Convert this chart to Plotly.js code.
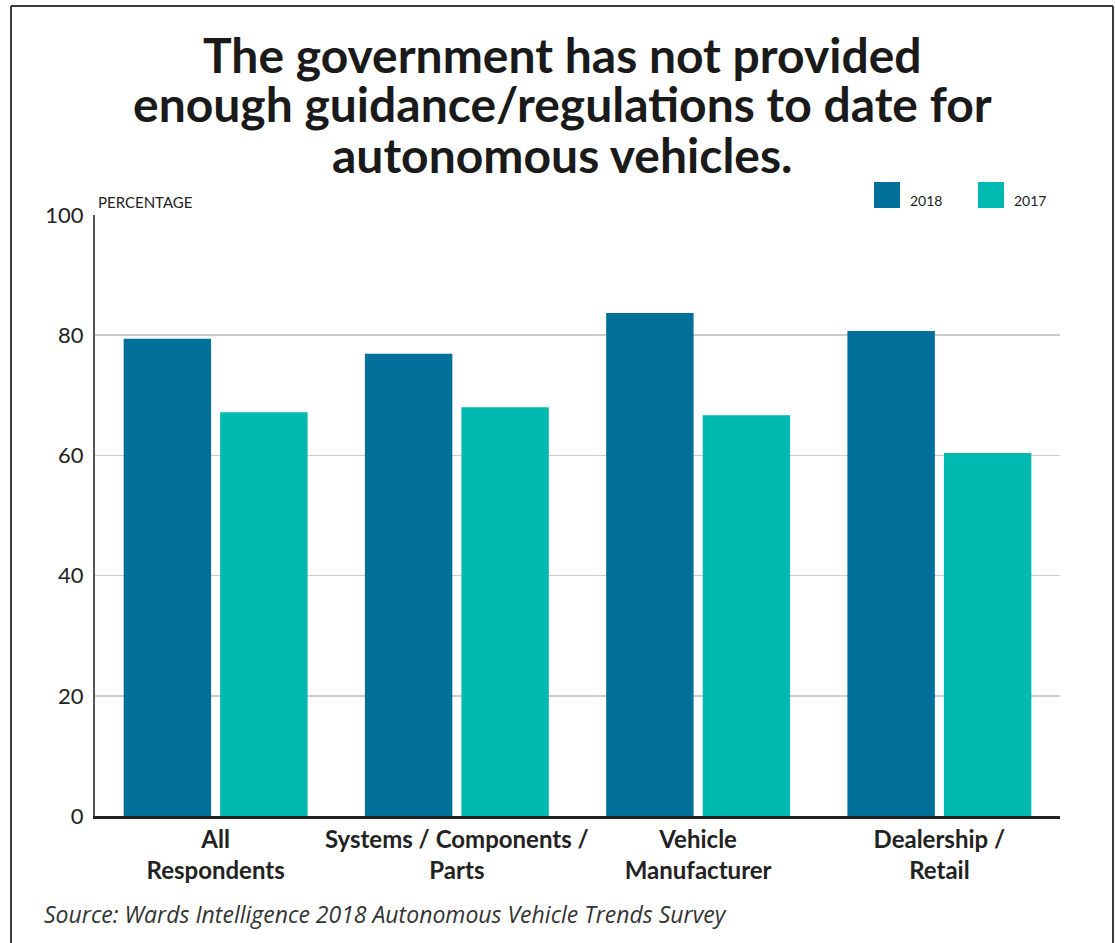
<!DOCTYPE html>
<html>
<head>
<meta charset="utf-8">
<script src="https://cdn.plot.ly/plotly-3.0.1.min.js"></script>
<style>
html,body{margin:0;padding:0;background:#fff;}
#chart{width:1115px;height:943px;}
</style>
</head>
<body>
<div id="chart"></div>
<script>
const titleLines = ["The government has not provided", "enough guidance/regulations to date for", "autonomous vehicles."];
const categories = ["All<br>Respondents", "Systems / Components /<br>Parts", "Vehicle<br>Manufacturer", "Dealership /<br>Retail"];
const seriesNames = ["2018", "2017"];
const values2018 = [79.4, 76.9, 83.7, 80.7];
const values2017 = [67.2, 68.0, 66.7, 60.4];
const yTicks = [0, 20, 40, 60, 80, 100];
const colors = ["#00709b", "#00b9b0"];

const FONT = "Lato, 'Source Sans Pro', 'Noto Sans', sans-serif";

const traces = [
  {type: "bar", name: seriesNames[0], x: categories, y: values2018, marker: {color: colors[0]}, showlegend: false, hoverinfo: "y"},
  {type: "bar", name: seriesNames[1], x: categories, y: values2017, marker: {color: colors[1]}, showlegend: false, hoverinfo: "y"}
];

// plot area geometry (px) used to place frame, title and legend in paper coords
const L = 95, R = 55, T = 215, B = 127, W = 1115, H = 943;
const pw = W - L - R, ph = H - T - B;
const px = v => (v - L) / pw;
const py = v => (H - B - v) / ph;

const shapes = [
  {type: "line", xref: "paper", yref: "paper", x0: px(11), x1: px(11), y0: py(6), y1: py(945), line: {color: "#3a3a3a", width: 2}},
  {type: "line", xref: "paper", yref: "paper", x0: px(11), x1: px(1113), y0: py(6), y1: py(6), line: {color: "#3a3a3a", width: 2}},
  {type: "line", xref: "paper", yref: "paper", x0: px(1113), x1: px(1113), y0: py(6), y1: py(945), line: {color: "#3a3a3a", width: 2}},
  {type: "rect", xref: "paper", yref: "paper", x0: px(874), x1: px(900), y0: py(182), y1: py(208), fillcolor: colors[0], line: {width: 0}},
  {type: "rect", xref: "paper", yref: "paper", x0: px(978), x1: px(1004), y0: py(182), y1: py(208), fillcolor: colors[1], line: {width: 0}}
];

const titleY = [54, 104, 154];
const annotations = titleLines.map((t, i) => ({
  xref: "paper", yref: "paper", x: px(562), y: py(titleY[i]), xanchor: "center", yanchor: "middle",
  text: "<b>" + t + "</b>", showarrow: false, font: {family: FONT, size: 48, color: "#1a1a1a"}
})).concat([
  {xref: "paper", yref: "paper", x: px(96), y: py(202), xanchor: "left", yanchor: "middle", text: "PERCENTAGE", showarrow: false, font: {family: FONT, size: 15, color: "#222"}},
  {xref: "paper", yref: "paper", x: px(908), y: py(200), xanchor: "left", yanchor: "middle", text: seriesNames[0], showarrow: false, font: {family: FONT, size: 14, color: "#222"}},
  {xref: "paper", yref: "paper", x: px(1012), y: py(200), xanchor: "left", yanchor: "middle", text: seriesNames[1], showarrow: false, font: {family: FONT, size: 14, color: "#222"}},
  {xref: "paper", yref: "paper", x: px(42), y: py(914), xanchor: "left", yanchor: "middle", text: "<i>Source: Wards Intelligence 2018 Autonomous Vehicle Trends Survey</i>", showarrow: false, font: {family: "'Open Sans', 'Noto Sans', sans-serif", size: 23, color: "#333"}}
]);

const layout = {
  width: W, height: H,
  margin: {l: L, r: R, t: T, b: B, pad: 0},
  paper_bgcolor: "#fff", plot_bgcolor: "#fff",
  barmode: "group", bargap: 0.2, bargroupgap: 0.094,
  xaxis: {
    tickfont: {family: FONT, size: 24, color: "#222", weight: "bold"},
    showline: true, linecolor: "#222", linewidth: 3,
    ticks: "", showgrid: false, fixedrange: true
  },
  yaxis: {
    range: [0, 100], tickvals: yTicks, ticktext: yTicks.map(String),
    tickfont: {family: FONT, size: 22, color: "#222"},
    showline: true, linecolor: "#555", linewidth: 2,
    showgrid: true, gridcolor: "#cccccc", gridwidth: 1.5,
    zeroline: false, ticks: "", ticklabelstandoff: 5, fixedrange: true
  },
  shapes: shapes,
  annotations: annotations,
  showlegend: false
};

Plotly.newPlot("chart", traces, layout, {displayModeBar: false, staticPlot: true});
</script>
</body>
</html>
